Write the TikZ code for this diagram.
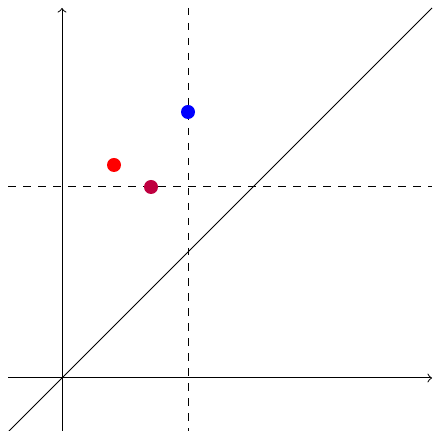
\documentclass[tikz,border=0pt]{standalone}
\begin{document}
\begin{tikzpicture}[x=0.4pt,y=-0.4pt,
  axis/.style={line width=0.4pt,->},
  guide/.style={line width=0.4pt,dashed},
  dot/.style={circle,inner sep=0pt,minimum size=5.6pt}]
\useasboundingbox (0,0) rectangle (433,431);
\coordinate (xa) at (8,378);
\coordinate (xb) at (432,378);
\coordinate (ya) at (62,431);
\coordinate (yb) at (62,8);
\coordinate (da) at (8,432);
\coordinate (db) at (432,8);
\coordinate (va) at (188,8);
\coordinate (vb) at (188,431);
\coordinate (ha) at (8,187);
\coordinate (hb) at (432,187);
\draw[axis] (xa) -- (xb);
\draw[axis] (ya) -- (yb);
\draw[line width=0.4pt] (da) -- (db);
\draw[guide] (va) -- (vb);
\draw[guide] (ha) -- (hb);
\node[dot,fill=blue] (b) at (188,112) {};
\node[dot,fill=red] (r) at (114,165) {};
\node[dot,fill=red!75!blue] (p) at (151,187) {};
\end{tikzpicture}
\end{document}
